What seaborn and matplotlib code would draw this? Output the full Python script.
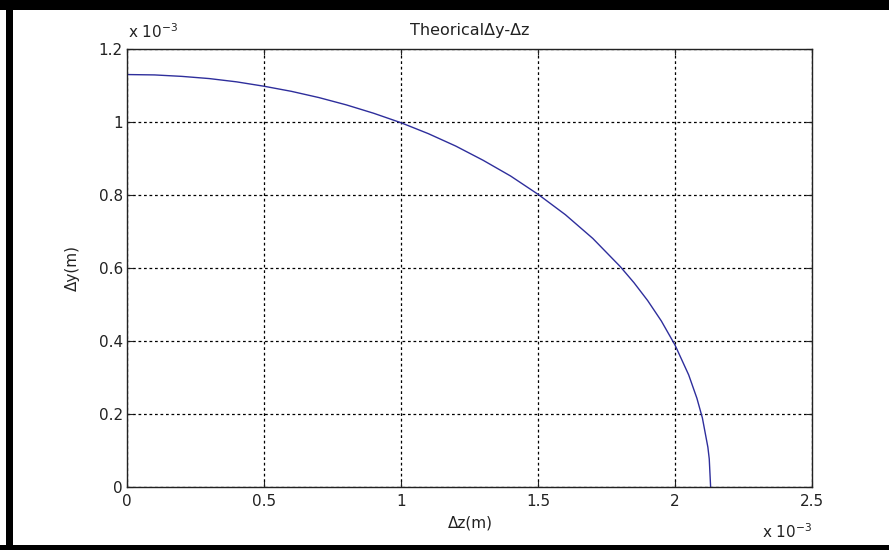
import matplotlib
matplotlib.use("Agg")
import matplotlib.pyplot as plt
from matplotlib.patches import Rectangle
import seaborn as sns
import pandas as pd

# Data (units of 1e-3 m)
dz = [0.0, 0.1, 0.2, 0.3, 0.4, 0.5, 0.6, 0.7, 0.8, 0.9, 1.0, 1.1, 1.2, 1.3,
      1.4, 1.5, 1.6, 1.7, 1.8, 1.85, 1.9, 1.95, 2.0, 2.05, 2.08, 2.1, 2.12,
      2.125, 2.13]
dy = [1.130, 1.129, 1.125, 1.119, 1.110, 1.098, 1.084, 1.067, 1.047, 1.024,
      0.998, 0.968, 0.934, 0.895, 0.852, 0.802, 0.746, 0.681, 0.604, 0.560,
      0.511, 0.455, 0.389, 0.307, 0.243, 0.189, 0.109, 0.077, 0.0]
x_ticks = [0, 0.5, 1, 1.5, 2, 2.5]
x_labels = ["0", "0.5", "1", "1.5", "2", "2.5"]
y_ticks = [0, 0.2, 0.4, 0.6, 0.8, 1.0, 1.2]
y_labels = ["0", "0.2", "0.4", "0.6", "0.8", "1", "1.2"]
title = "Theorical\u0394y-\u0394z"
xlabel = "\u0394z(m)"
ylabel = "\u0394y(m)"
offset = "x 10$^{-3}$"

sns.set_theme(style="white")
plt.rcParams["font.family"] = ["DejaVu Sans"]

W, H = 889, 550
fig = plt.figure(figsize=(W / 100, H / 100), dpi=100)
fig.patch.set_facecolor("white")
L, R, T, B = 127, 812, 49, 487
ax = fig.add_axes([L / W, 1 - B / H, (R - L) / W, (B - T) / H])

df = pd.DataFrame({"dz": dz, "dy": dy})
sns.lineplot(data=df, x="dz", y="dy", sort=False, ax=ax, color="#2e2e9c",
             linewidth=1.0, estimator=None)

ax.set_xlim(0, 2.5)
ax.set_ylim(0, 1.2)
ax.set_xticks(x_ticks)
ax.set_xticklabels(x_labels)
ax.set_yticks(y_ticks)
ax.set_yticklabels(y_labels)
ax.set_xlabel("")
ax.set_ylabel("")
ax.grid(True, color="black", linestyle=(0, (2.2, 2.2)), linewidth=0.9)
ax.tick_params(direction="in", length=4, width=0.8, color="#222222",
               top=True, right=True, bottom=True, left=True,
               labelsize=11, labelcolor="#222222")
ax.tick_params(axis="x", pad=5)
ax.tick_params(axis="y", pad=3)
for s in ax.spines.values():
    s.set_visible(True)
    s.set_color("#222222")
    s.set_linewidth(1.0)

tc = "#222222"
fig.text(470 / W, 1 - 30 / H, title, ha="center", va="center", fontsize=11.5, color=tc)
fig.text(470 / W, 1 - 523 / H, xlabel, ha="center", va="center", fontsize=11, color=tc)
fig.text(72 / W, 1 - 268 / H, ylabel, ha="center", va="center", rotation=90,
         fontsize=11, color=tc)
fig.text(128 / W, 1 - 41 / H, offset, ha="left", va="bottom", fontsize=11, color=tc)
fig.text(762 / W, 1 - 532 / H, offset, ha="left", va="center", fontsize=11, color=tc)

# Thick black frame (left, top, bottom)
fig.add_artist(Rectangle((6 / W, 0), 7 / W, 1, transform=fig.transFigure,
                         facecolor="black", edgecolor="none"))
fig.add_artist(Rectangle((0, 1 - 10 / H), 1, 10 / H, transform=fig.transFigure,
                         facecolor="black", edgecolor="none"))
fig.add_artist(Rectangle((0, 0), 1, 5 / H, transform=fig.transFigure,
                         facecolor="black", edgecolor="none"))

fig.savefig("out.png", dpi=100, facecolor="white")
